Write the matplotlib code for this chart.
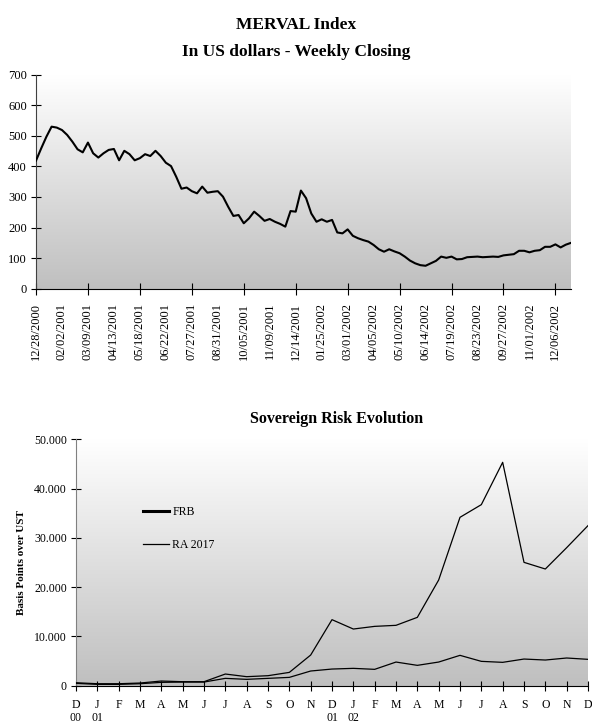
import matplotlib
matplotlib.use("Agg")
import matplotlib.pyplot as plt
import numpy as np
from matplotlib.colors import LinearSegmentedColormap
from matplotlib.lines import Line2D
from matplotlib.ticker import FuncFormatter, MultipleLocator, FixedLocator, FixedFormatter, NullFormatter

# ---------------- data ----------------
merval = [419, 459, 497, 530, 527, 519, 503, 481, 456, 446,
          478, 443, 429, 443, 454, 457, 420, 451, 440, 420,
          427, 440, 434, 451, 434, 412, 401, 366, 327, 331,
          319, 312, 334, 314, 317, 319, 301, 268, 238, 241,
          214, 230, 252, 238, 222, 228, 219, 212, 203, 254,
          252, 321, 296, 246, 219, 227, 219, 225, 184, 181,
          194, 173, 165, 159, 154, 143, 129, 121, 129, 122,
          116, 105, 92, 83, 77, 75, 83, 91, 105, 101,
          105, 96, 97, 103, 104, 105, 103, 104, 105, 104,
          109, 111, 113, 124, 124, 119, 124, 126, 137, 137,
          145, 135, 144, 150]
date_labels = ["12/28/2000", "02/02/2001", "03/09/2001", "04/13/2001", "05/18/2001",
               "06/22/2001", "07/27/2001", "08/31/2001", "10/05/2001", "11/09/2001",
               "12/14/2001", "01/25/2002", "03/01/2002", "04/05/2002", "05/10/2002",
               "06/14/2002", "07/19/2002", "08/23/2002", "09/27/2002", "11/01/2002",
               "12/06/2002"]

months = ["D\n00", "J\n01", "F", "M", "A", "M", "J", "J", "A", "S", "O", "N",
          "D\n01", "J\n02", "F", "M", "A", "M", "J", "J", "A", "S", "O", "N", "D"]
frb = [600, 400, 400, 540, 950, 810, 810, 2370, 1830, 2030, 2700, 6220,
       13400, 11500, 12040, 12250, 13870, 21450, 34170, 36740, 45330,
       25030, 23680, 28010, 32480]
ra2017 = [470, 270, 270, 400, 680, 740, 740, 1490, 1290, 1490, 1690, 2980,
          3380, 3520, 3320, 4800, 4130, 4800, 6160, 4940, 4740, 5410, 5210,
          5620, 5350]

# ---------------- style ----------------
FONT = ["Liberation Serif", "DejaVu Serif"]
plt.rcParams["font.family"] = FONT
W, H = 592, 723
fig = plt.figure(figsize=(W / 100, H / 100), dpi=100)
grad_cmap = LinearSegmentedColormap.from_list("g", ["#ffffff", "#bfbfbf"])


def add_gradient(ax):
    g = np.linspace(0, 1, 256).reshape(-1, 1)
    ax.imshow(g, cmap=grad_cmap, aspect="auto", extent=(0, 1, 0, 1),
              transform=ax.transAxes, zorder=0, origin="upper")


# ---------------- top chart ----------------
ax1 = fig.add_axes([36 / W, 1 - 288.7 / H, (571 - 36) / W, (288.7 - 74.7) / H])
add_gradient(ax1)
x = np.arange(len(merval))
ax1.plot(x, merval, color="black", lw=1.5, zorder=3)
ax1.set_xlim(0, len(merval) - 1)
ax1.set_ylim(0, 700)
ax1.yaxis.set_major_locator(MultipleLocator(100))
for s in ["top", "right"]:
    ax1.spines[s].set_visible(False)
ax1.spines["left"].set_color("#404040")
ax1.spines["bottom"].set_color("black")
ax1.tick_params(axis="y", direction="inout", length=7, width=0.8, pad=3, labelsize=9)
# major ticks every 10 weeks (marks only), labels every 5 weeks (minor, no marks)
label_pos = np.arange(0, 5 * len(date_labels), 5)
ax1.xaxis.set_major_locator(FixedLocator(np.arange(0, 101, 10)))
ax1.xaxis.set_major_formatter(NullFormatter())
ax1.xaxis.set_minor_locator(FixedLocator(label_pos))
ax1.xaxis.set_minor_formatter(FixedFormatter(date_labels))
ax1.xaxis.remove_overlapping_locs = False
ax1.tick_params(axis="x", which="major", direction="inout", length=8, width=0.8)
ax1.tick_params(axis="x", which="minor", length=0, pad=10, labelrotation=90, labelsize=9)

fig.text(296 / W, 1 - 25 / H, "MERVAL Index", ha="center", va="center",
         fontsize=12.5, fontweight="bold")
fig.text(296 / W, 1 - 52 / H, "In US dollars - Weekly Closing", ha="center",
         va="center", fontsize=12.5, fontweight="bold")

# ---------------- bottom chart ----------------
ax2 = fig.add_axes([76 / W, 1 - 685.7 / H, (588 - 76) / W, (685.7 - 439.3) / H])
add_gradient(ax2)
xm = np.arange(len(months))
ax2.plot(xm, frb, color="black", lw=0.9, zorder=3)
ax2.plot(xm, ra2017, color="black", lw=0.9, zorder=3)
ax2.set_xlim(0, len(months) - 1)
ax2.set_ylim(0, 50000)
ax2.yaxis.set_major_locator(MultipleLocator(10000))
ax2.yaxis.set_major_formatter(FuncFormatter(lambda v, p: f"{int(v):,}".replace(",", ".")))
ax2.xaxis.set_major_locator(FixedLocator(xm))
ax2.xaxis.set_major_formatter(FixedFormatter(months))
for s in ["top", "right"]:
    ax2.spines[s].set_visible(False)
ax2.spines["left"].set_color("#808080")
ax2.spines["bottom"].set_color("black")
ax2.tick_params(axis="y", direction="inout", length=7, width=0.8, pad=3, labelsize=8.5)
ax2.tick_params(axis="x", direction="inout", length=7, width=0.8, pad=6, labelsize=8.5)
ax2.set_ylabel("Basis Points over UST", fontsize=8, fontweight="bold", labelpad=6)

handles = [Line2D([], [], color="black", lw=2.2), Line2D([], [], color="black", lw=0.9)]
ax2.legend(handles, ["FRB", "RA 2017"], loc="center left",
           bbox_to_anchor=(0.11, 0.637), frameon=False, fontsize=8.5,
           handlelength=2.2, handletextpad=0.3, labelspacing=1.75)

fig.text(337 / W, 1 - 419 / H, "Sovereign Risk Evolution", ha="center", va="center",
         fontsize=11.5, fontweight="bold")

fig.canvas.draw()
for lbl in ax2.get_xticklabels():
    lbl.set_linespacing(1.15)

fig.savefig("out.png", dpi=100)
